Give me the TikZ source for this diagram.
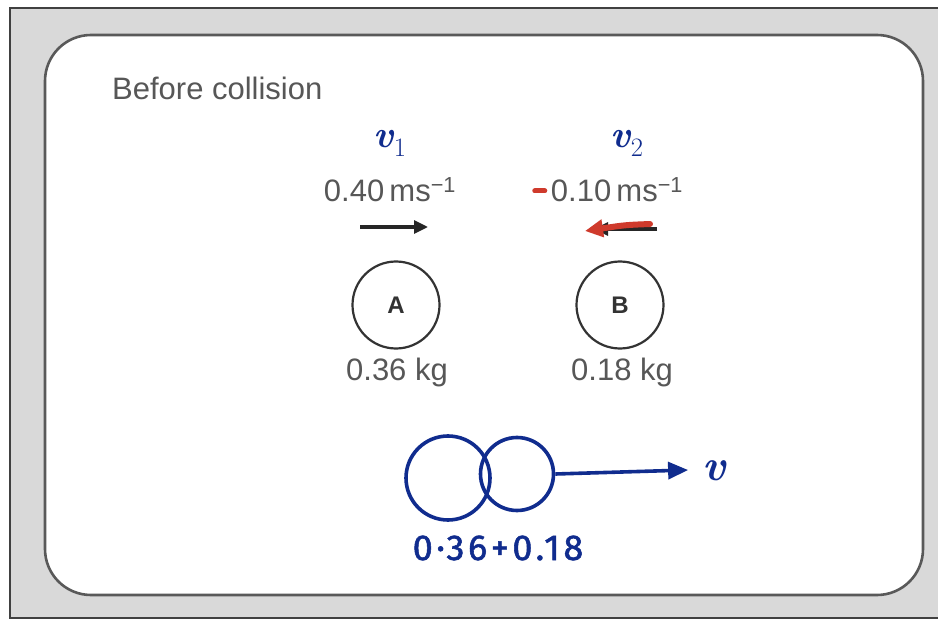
\documentclass[tikz,border=0pt]{standalone}
\usepackage{amsmath,amssymb}
\usepackage{fontspec}
\setsansfont{Liberation Sans}
\newfontfamily\handfont[LetterSpace=10,FakeBold=1.5]{Fira Sans}
\usetikzlibrary{arrows.meta,positioning}
\definecolor{txtgray}{HTML}{575757}
\definecolor{pen}{HTML}{102C8E}
\definecolor{redpen}{HTML}{CF3A2C}
\newcommand{\inkv}{{\rmfamily\bfseries\itshape v}}
\begin{document}
\begin{tikzpicture}[x=1pt,y=-1pt,
  txt/.style={text=txtgray,font=\sffamily\fontsize{31}{36}\selectfont,inner sep=0pt},
  ball/.style={circle,draw=black!80,line width=2.2pt,minimum size=87pt,inner sep=0pt,font=\sffamily\bfseries\fontsize{24}{28}\selectfont,text=black!80},
  inkball/.style={circle,draw=pen,line width=3.6pt,inner sep=0pt},
  ink/.style={text=pen,inner sep=0pt,font=\fontsize{38}{44}\selectfont}]
\useasboundingbox (0,0) rectangle (938,623);
\draw[fill=black!15,draw=black!75,line width=2.5pt] (10,8) rectangle (960,618);
\draw[fill=white,draw=black!65,line width=2.6pt,rounded corners=46pt] (45,35) rectangle (923,595);
\node[txt,anchor=west] (title) at (112,88) {Before collision};
\node[ink] (v1) at (390,143) {\inkv\textsubscript{1}};
\node[ink] (v2) at (627,143) {\inkv\textsubscript{2}};
\node[txt] (u1) at (390,190) {0.40\,ms\textsuperscript{−1}};
\node[txt] (u2) at (617,190) {0.10\,ms\textsuperscript{−1}};
\draw[redpen,line width=5pt,line cap=round] ([xshift=-16pt,yshift=-1pt]u2.west) -- ([xshift=-6pt,yshift=-1pt]u2.west);
\coordinate (a1) at (360,227);
\coordinate (a2) at (428,227);
\coordinate (b1) at (657,229);
\coordinate (b2) at (594,229);
\draw[-{Triangle[length=14pt,width=13pt]},line width=3.2pt,black!85] (a1) -- (a2);
\draw[-{Triangle[length=14pt,width=13pt]},line width=3.2pt,black!85] (b1) -- (b2);
\draw[-{Triangle[length=18pt,width=17pt]},line width=6pt,redpen,line cap=round] (650,224) .. controls (625,225) .. (585,231);
\node[ball] (A) at (396,305) {A};
\node[ball] (B) at (620,305) {B};
\node[txt] (mA) at (397,372) {0.36 kg};
\node[txt] (mB) at (622,372) {0.18 kg};
\node[inkball,minimum size=84pt] (c1) at (448,478) {};
\node[inkball,minimum size=73pt] (c2) at (517,474) {};
\node[ink,font=\fontsize{44}{50}\selectfont] (v) at (714,471) {\inkv};
\draw[-{Triangle[length=20pt,width=17pt]},line width=3.6pt,pen] (c2.east) -- ([xshift=-14pt,yshift=1pt]v.west);
\node[ink,font=\handfont\fontsize{36}{40}\selectfont] (sum) at (498,548) {0·36+0.18};
\end{tikzpicture}
\end{document}
